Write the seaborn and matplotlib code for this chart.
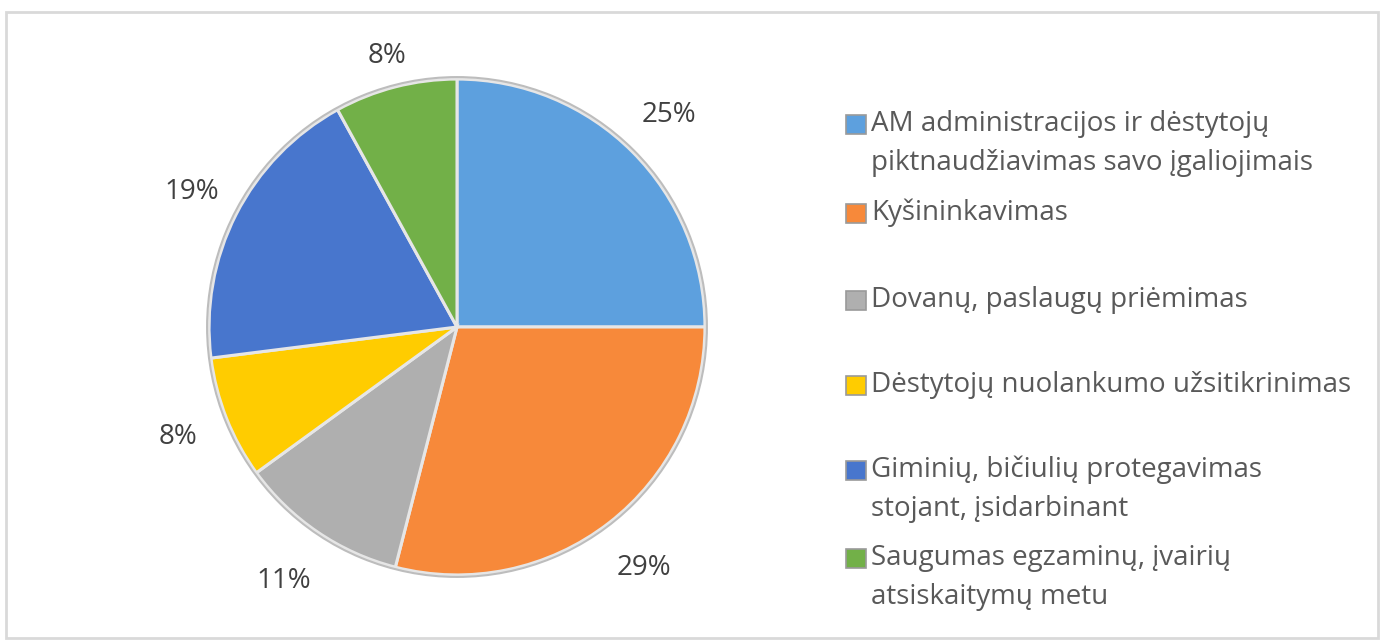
import numpy as np
import matplotlib.pyplot as plt
import seaborn as sns
from matplotlib.patches import Rectangle

categories = [
    "AM administracijos ir dėstytojų\npiktnaudžiavimas savo įgaliojimais",
    "Kyšininkavimas",
    "Dovanų, paslaugų priėmimas",
    "Dėstytojų nuolankumo užsitikrinimas",
    "Giminių, bičiulių protegavimas\nstojant, įsidarbinant",
    "Saugumas egzaminų, įvairių\natsiskaitymų metu",
]
shares = [25, 29, 11, 8, 19, 8]
slice_colors = ['#5DA0DE', '#F7893A', '#AFAFAF', '#FFCC00', '#4876CD', '#72B048']

sns.set_style('white')
plt.rcParams['font.family'] = ['Open Sans', 'DejaVu Sans']

W, H = 1384, 644
fig = plt.figure(figsize=(W / 100, H / 100), dpi=100)

# light grey chart frame
fig.patches.append(Rectangle((6 / W, 6 / H), 1372 / W, 626 / H, transform=fig.transFigure,
                             fill=False, edgecolor='#D9D9D9', linewidth=2))

# pie centred at (457, 327) px, radius ~248 px
ax = fig.add_axes([157 / W, 17 / H, 600 / W, 600 / H])
wedges, texts, autotexts = ax.pie(
    shares, colors=slice_colors, startangle=90, counterclock=False,
    autopct='%1.0f%%', pctdistance=1.2, radius=1,
    wedgeprops=dict(edgecolor='#E6E6E6', linewidth=2.2),
    textprops=dict(color='#404040', fontsize=20))
# soft outer rim
ax.pie([1], colors=['none'], radius=1.008, startangle=90,
       wedgeprops=dict(edgecolor='#BDBDBD', linewidth=1.5, fill=False))

# push each outside label to roughly where the original sits (along its slice's mid angle)
label_dist = [1.21, 1.23, 1.24, 1.21, 1.2, 1.13]
for w, t, d in zip(wedges, autotexts, label_dist):
    mid = np.deg2rad((w.theta1 + w.theta2) / 2)
    t.set_position((d * np.cos(mid), d * np.sin(mid)))

ax.set_xlim(-1.21, 1.21)
ax.set_ylim(-1.21, 1.21)
ax.axis('off')

# legend drawn by hand to follow the uneven vertical layout
legend_first_line = [124, 213, 300, 385, 470, 558]
line_step = 39
for label, color, y0 in zip(categories, slice_colors, legend_first_line):
    fig.patches.append(Rectangle((846 / W, (H - y0 - 9.5) / H), 20 / W, 19 / H,
                                 transform=fig.transFigure, facecolor=color,
                                 edgecolor='#9A9A9A', linewidth=1.2))
    for i, line in enumerate(label.split('\n')):
        fig.text(871 / W, (H - y0 - i * line_step) / H, line, fontsize=20,
                 color='#595959', ha='left', va='center')

fig.savefig('out.png', dpi=100)
